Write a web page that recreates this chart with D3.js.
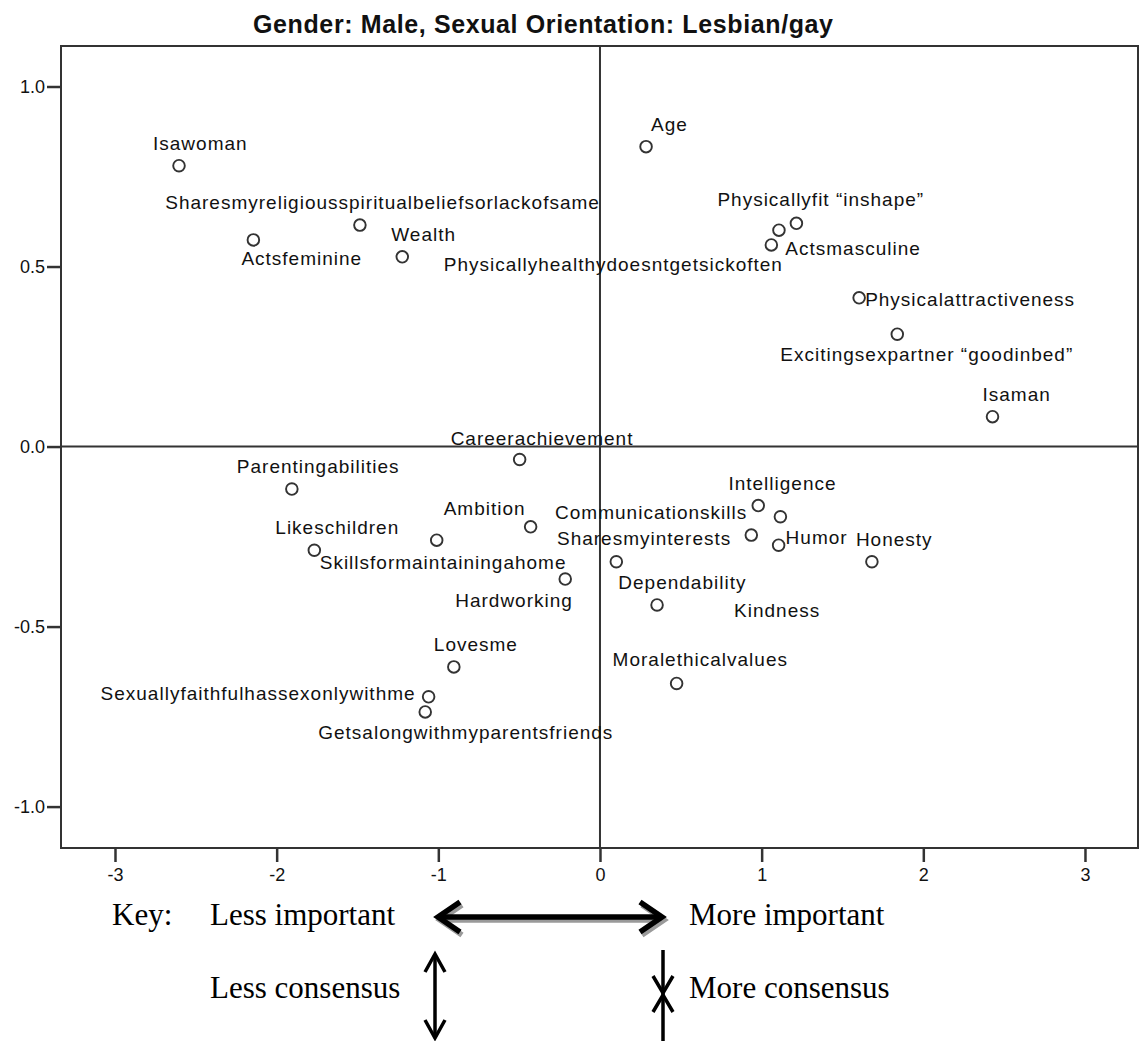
<!DOCTYPE html>
<html>
<head>
<meta charset="utf-8">
<script src="https://cdn.jsdelivr.net/npm/d3@7/dist/d3.min.js"></script>
<style>
  html, body { margin: 0; padding: 0; background: #fff; }
  svg { display: block; }
  .pt-label { font-family: "Liberation Sans", Arial, sans-serif; font-size: 19px; fill: #111; letter-spacing: 1px; }
  .tick text { font-family: "Liberation Sans", Arial, sans-serif; font-size: 18px; fill: #111; }
  .title { font-family: "Liberation Sans", Arial, sans-serif; font-size: 25px; font-weight: bold; fill: #111; }
  .key text { font-family: "Liberation Serif", "Times New Roman", serif; font-size: 31px; fill: #000; }
</style>
</head>
<body>
<div id="chart"></div>
<script>
/* ============================================================
   1. DATA — MDS coordinates
   ============================================================ */
const LABELS = [
  'Isawoman', 'Sharesmyreligiousspiritualbeliefsorlackofsame', 'Actsfeminine', 'Wealth',
  'Physicallyhealthydoesntgetsickoften', 'Age', 'Physicallyfit \u201cinshape\u201d', 'Actsmasculine',
  'Physicalattractiveness', 'Excitingsexpartner \u201cgoodinbed\u201d', 'Isaman',
  'Careerachievement', 'Parentingabilities', 'Ambition', 'Likeschildren',
  'Skillsformaintainingahome', 'Hardworking', 'Lovesme', 'Sexuallyfaithfulhassexonlywithme',
  'Getsalongwithmyparentsfriends', 'Sharesmyinterests', 'Dependability', 'Kindness',
  'Intelligence', 'Communicationskills', 'Humor', 'Honesty', 'Moralethicalvalues'
];

// dimension 1 (importance)
const DIM1 = [
  -2.604, -1.485, -2.144, -1.223, 1.107, 0.285, 1.215, 1.060, 1.603, 1.839, 2.428,
  -0.497, -1.906, -0.429, -1.767, -1.010, -0.215, -0.904, -1.060, -1.081,
  0.936, 0.101, 0.353, 1.116, 0.979, 1.105, 1.682, 0.474
];

// dimension 2 (consensus)
const DIM2 = [
  0.780, 0.615, 0.574, 0.527, 0.601, 0.833, 0.620, 0.560, 0.413, 0.312, 0.083,
  -0.036, -0.118, -0.223, -0.288, -0.260, -0.368, -0.612, -0.695, -0.737,
  -0.246, -0.320, -0.440, -0.195, -0.164, -0.274, -0.320, -0.658
];

const X_TICKS = [-3, -2, -1, 0, 1, 2, 3];
const Y_TICKS = [-1.0, -0.5, 0.0, 0.5, 1.0];

const TITLE = 'Gender: Male, Sexual Orientation: Lesbian/gay';

/* ============================================================
   2. LAYOUT
   label offsets from the point (dx, dy, anchor), like SPSS placed them
   ============================================================ */
const LABEL_OFFSETS = [
  [-26, -16, 'start'], [240, -16, 'end'], [-12, 25, 'start'], [-11, -16, 'start'],
  [4, 41, 'end'], [5, -16, 'start'], [-79, -17, 'start'], [14, 10, 'start'],
  [6, 8, 'start'], [-117, 27, 'start'], [-10, -16, 'start'],
  [-69, -15, 'start'], [-55, -16, 'start'], [-87, -12, 'start'], [-39, -16, 'start'],
  [-117, 29, 'start'], [-110, 28, 'start'], [-20, -16, 'start'], [-13, 3, 'end'],
  [-107, 27, 'start'], [-20, 10, 'end'], [2, 27, 'start'], [77, 12, 'start'],
  [-52, -27, 'start'], [-11, 13, 'end'], [7, -1, 'start'], [-16, -16, 'start'], [-64, -17, 'start']
];

const W = 1139, H = 1041;
const PLOT = { left: 61, right: 1138, top: 46, bottom: 848 };
const INK = '#333';

const svg = d3.select('#chart').append('svg')
  .attr('width', W)
  .attr('height', H);

const x = d3.scaleLinear().domain([-3.334, 3.328]).range([PLOT.left, PLOT.right]);
const y = d3.scaleLinear().domain([-1.115, 1.1125]).range([PLOT.bottom, PLOT.top]);

const points = LABELS.map((name, i) => ({
  name: name, d1: DIM1[i], d2: DIM2[i],
  dx: LABEL_OFFSETS[i][0], dy: LABEL_OFFSETS[i][1], anchor: LABEL_OFFSETS[i][2]
}));

/* ---------- title ---------- */
svg.append('text')
  .attr('class', 'title')
  .attr('x', 253)
  .attr('y', 33)
  .attr('textLength', 580)
  .attr('lengthAdjust', 'spacing')
  .text(TITLE);

/* ---------- frame + zero lines ---------- */
svg.append('rect')
  .attr('x', PLOT.left).attr('y', PLOT.top)
  .attr('width', PLOT.right - PLOT.left).attr('height', PLOT.bottom - PLOT.top)
  .attr('fill', 'none').attr('stroke', INK).attr('stroke-width', 2);

svg.append('line')
  .attr('x1', x(0)).attr('x2', x(0))
  .attr('y1', PLOT.top).attr('y2', PLOT.bottom)
  .attr('stroke', INK).attr('stroke-width', 2);

svg.append('line')
  .attr('x1', PLOT.left).attr('x2', PLOT.right)
  .attr('y1', y(0)).attr('y2', y(0))
  .attr('stroke', INK).attr('stroke-width', 2);

/* ---------- axes ---------- */
const yAxis = svg.append('g')
  .attr('transform', `translate(${PLOT.left},0)`)
  .call(d3.axisLeft(y).tickValues(Y_TICKS).tickFormat(d => d.toFixed(1)).tickSize(14).tickPadding(2));

const xAxis = svg.append('g')
  .attr('transform', `translate(0,${PLOT.bottom})`)
  .call(d3.axisBottom(x).tickValues(X_TICKS).tickFormat(d => String(d)).tickSize(14).tickPadding(6));

[xAxis, yAxis].forEach(ax => {
  ax.select('.domain').remove();
  ax.selectAll('.tick line').attr('stroke', INK).attr('stroke-width', 2.5);
  ax.selectAll('.tick text').attr('fill', '#111');
});

/* ---------- points + labels ---------- */
svg.append('g').selectAll('circle')
  .data(points)
  .join('circle')
    .attr('cx', d => x(d.d1))
    .attr('cy', d => y(d.d2))
    .attr('r', 5.8)
    .attr('fill', 'none')
    .attr('stroke', INK)
    .attr('stroke-width', 1.9);

svg.append('g').selectAll('text')
  .data(points)
  .join('text')
    .attr('class', 'pt-label')
    .attr('x', d => x(d.d1) + d.dx)
    .attr('y', d => y(d.d2) + d.dy)
    .attr('text-anchor', d => d.anchor)
    .text(d => d.name);

/* ============================================================
   3. KEY under the chart
   ============================================================ */
const key = svg.append('g').attr('class', 'key');

[
  ['Key:', 112, 925], ['Less important', 210, 925], ['More important', 689, 925],
  ['Less consensus', 210, 998], ['More consensus', 689, 998]
].forEach(([t, tx, ty]) => key.append('text').attr('x', tx).attr('y', ty).text(t));

// open arrow head (chevron) with the tip at (tx, ty), pointing at angle a
function chevron(tx, ty, a, len, half) {
  const c = Math.cos(a), s = Math.sin(a);
  const bx = tx - len * c, by = ty - len * s;
  return `M${bx - half * s},${by + half * c}L${tx},${ty}L${bx + half * s},${by - half * c}`;
}

function doubleArrow(g, x1, y1, x2, y2, width, len, half, color) {
  const a = Math.atan2(y2 - y1, x2 - x1);
  g.append('line')
    .attr('x1', x1 + 3 * Math.cos(a)).attr('y1', y1 + 3 * Math.sin(a))
    .attr('x2', x2 - 3 * Math.cos(a)).attr('y2', y2 - 3 * Math.sin(a))
    .attr('stroke', color).attr('stroke-width', width);
  g.append('path').attr('d', chevron(x2, y2, a, len, half) + chevron(x1, y1, a + Math.PI, len, half))
    .attr('fill', 'none').attr('stroke', color).attr('stroke-width', width)
    .attr('stroke-linejoin', 'miter').attr('stroke-linecap', 'butt');
}

// horizontal importance arrow, with grey drop shadow
doubleArrow(key.append('g').attr('transform', 'translate(2,3)'), 438, 917, 662, 917, 5.5, 22, 15, '#9a9a9a');
doubleArrow(key.append('g'), 438, 917, 662, 917, 5.5, 22, 15, '#000');

// less consensus: arrows pointing apart
doubleArrow(key.append('g'), 435, 954, 435, 1038, 3.5, 18, 10, '#000');

// more consensus: arrows pointing together
const mc = key.append('g');
mc.append('line').attr('x1', 663).attr('x2', 663).attr('y1', 950).attr('y2', 1041)
  .attr('stroke', '#000').attr('stroke-width', 3.5);
mc.append('path').attr('d', chevron(663, 993, Math.PI / 2, 17, 10) + chevron(663, 995, -Math.PI / 2, 17, 10))
  .attr('fill', 'none').attr('stroke', '#000').attr('stroke-width', 3.5);
</script>
</body>
</html>
